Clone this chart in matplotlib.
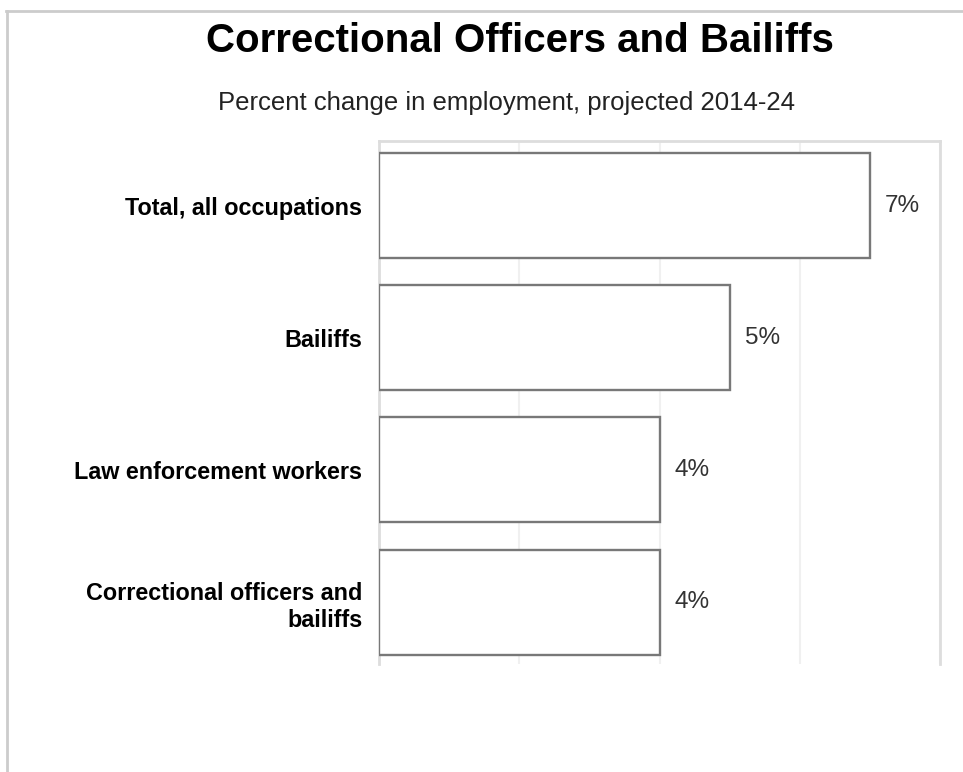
import matplotlib.pyplot as plt
from matplotlib.lines import Line2D

# datos
categorias = ['Total, all occupations', 'Bailiffs', 'Law enforcement workers',
              'Correctional officers and\nbailiffs']
valores = [7, 5, 4, 4]
etiquetas = ['7%', '5%', '4%', '4%']

plt.rcParams['font.family'] = ['Liberation Sans', 'DejaVu Sans']

fig = plt.figure(figsize=(9.63, 7.72), dpi=100)
ax = fig.add_axes([379 / 963, 1 - 664 / 772, (940 - 379) / 963, (664 - 141) / 772])

# borde de la figura (solo arriba e izquierda)
fig.add_artist(Line2D([7 / 963, 7 / 963], [0, 1 - 11 / 772], transform=fig.transFigure,
                      color='#cccccc', lw=2))
fig.add_artist(Line2D([6 / 963, 1], [1 - 11 / 772, 1 - 11 / 772], transform=fig.transFigure,
                      color='#cccccc', lw=2))

pos = range(len(categorias))
ax.barh(pos, valores, height=0.795, color='white', edgecolor='#787878', linewidth=1.7, zorder=3)

for p, v, t in zip(pos, valores, etiquetas):
    ax.annotate(t, (v, p), xytext=(11, 0), textcoords='offset points',
                va='center', ha='left', fontsize=17.5, color='#333333')

ax.set_xlim(0, 8)
ax.set_ylim(3.468, -0.488)
ax.set_xticks([0, 2, 4, 6, 8])
ax.xaxis.grid(True, color='#f0f0f0', lw=1.5, zorder=0)
ax.tick_params(axis='x', length=0, labelbottom=False)
ax.set_yticks(list(pos))
ax.set_yticklabels(categorias, fontsize=16.8, fontweight='bold', linespacing=1.25)
ax.tick_params(axis='y', length=0, pad=12)

for s in ['left', 'top', 'right']:
    ax.spines[s].set_color('#dddddd')
    ax.spines[s].set_linewidth(2)
ax.spines['bottom'].set_visible(False)

fig.text(520 / 963, 1 - 41 / 772, 'Correctional Officers and Bailiffs', ha='center', va='center',
         fontsize=29, fontweight='bold')
fig.text(507 / 963, 1 - 103 / 772, 'Percent change in employment, projected 2014-24',
         ha='center', va='center', fontsize=18.5, color='#222222')

plt.savefig('out.png', dpi=100)
